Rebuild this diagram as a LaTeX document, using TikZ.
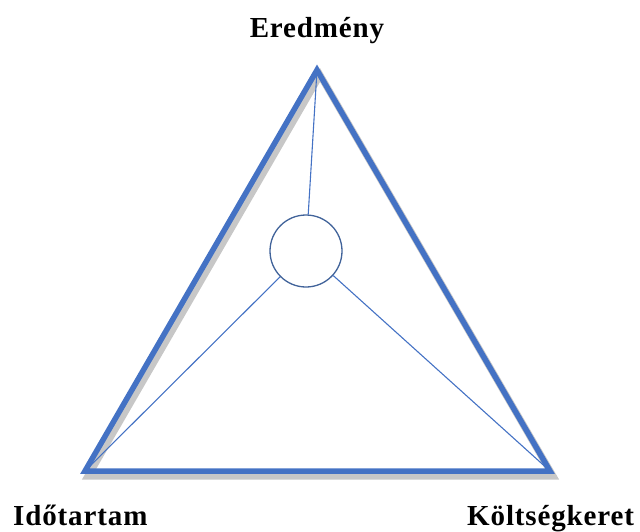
\documentclass[tikz,border=0pt]{standalone}
\usepackage{fontspec}
\setmainfont{Liberation Serif}
\newfontfamily\lblfont[LetterSpace=3]{Liberation Serif}
\begin{document}
\begin{tikzpicture}[x=1pt,y=-1pt,
  tri/.style={draw=triblue, line width=5.5pt, line join=miter},
  shad/.style={draw=black!40, line width=7pt, opacity=0.55, line join=miter},
  spoke/.style={draw=triblue, line width=1.1pt},
  lbl/.style={font=\lblfont\fontsize{29}{31}\selectfont\bfseries, inner sep=0pt}]
\definecolor{triblue}{HTML}{4472C4}
\definecolor{circblue}{HTML}{41639A}
\useasboundingbox (0,0) rectangle (640,531);
\coordinate (T) at (317,70);
\coordinate (L) at (85,471);
\coordinate (R) at (550,471);
% shadow
\draw[shad] ([shift={(3,5)}]T) -- ([shift={(3,5)}]L) -- ([shift={(3,5)}]R) -- cycle;
\draw[tri] (T) -- (L) -- (R) -- cycle;
\node[circle, draw=circblue, line width=1.3pt, minimum size=72pt, inner sep=0pt, fill=white] (c) at (306,251) {};
\draw[spoke] (c) -- (T);
\draw[spoke] (c) -- (L);
\draw[spoke] (c) -- (R);
\node[lbl, anchor=base] (e) at (317,37) {Eredmény};
\node[lbl, anchor=base west] (i) at (13,525) {Időtartam};
\node[lbl, anchor=base west] (k) at (467,525) {Költségkeret};
\end{tikzpicture}
\end{document}
